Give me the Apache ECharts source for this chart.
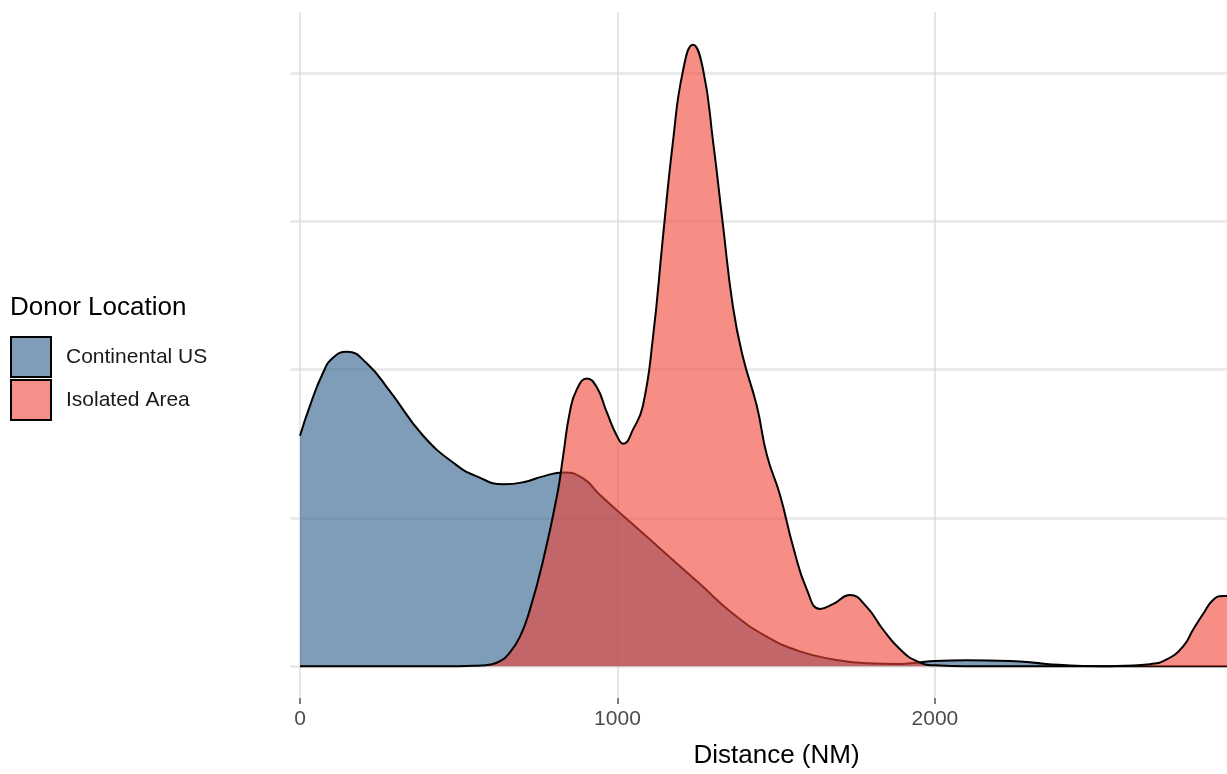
<!DOCTYPE html>
<html>
<head>
<meta charset="utf-8">
<script src="https://cdn.jsdelivr.net/npm/echarts@6/dist/echarts.min.js"></script>
<style>
html,body{margin:0;padding:0;background:#fff;overflow:hidden;}
#chart{position:absolute;left:0;top:0;width:1227px;height:774px;}
</style>
</head>
<body>
<div id="chart"></div>
<script>
// Density estimates (units of 1e-4 per NM)
const xTickValues = [0, 1000, 2000];
const seriesNames = ['Continental US', 'Isolated Area'];
const continentalX = [0, 31, 73, 104, 148, 211, 283, 388, 494, 557, 640, 703, 766, 829, 892, 945, 1050, 1155, 1260, 1364, 1470, 1575, 1680, 1785, 1890, 1943, 2000, 2100, 2236, 2350, 2466, 2600, 2800, 3000];
const continentalY = [7.77, 8.77, 9.9, 10.4, 10.6, 10.2, 9.27, 7.77, 6.77, 6.4, 6.13, 6.2, 6.4, 6.53, 6.33, 5.77, 4.77, 3.77, 2.77, 1.77, 1.0, 0.5, 0.23, 0.1, 0.08, 0.12, 0.18, 0.2, 0.18, 0.08, 0.01, 0, 0, 0];
const isolatedX = [0, 300, 500, 557, 600, 630, 660, 693, 724, 766, 810, 829, 850, 872, 904, 935, 966, 998, 1018, 1050, 1080, 1112, 1143, 1175, 1206, 1238, 1269, 1301, 1332, 1364, 1395, 1439, 1471, 1512, 1554, 1597, 1638, 1680, 1732, 1785, 1837, 1890, 1943, 2000, 2100, 2300, 2500, 2600, 2677, 2730, 2782, 2813, 2845, 2876, 2907, 2950, 3000];
const isolatedY = [0, 0, 0, 0.02, 0.06, 0.17, 0.45, 1.0, 1.9, 3.57, 5.77, 7.1, 8.57, 9.33, 9.7, 9.4, 8.57, 7.77, 7.5, 8.0, 8.77, 11.1, 14.43, 17.7, 20.05, 20.95, 20.15, 17.7, 14.9, 12.1, 10.43, 8.77, 7.1, 5.77, 4.0, 2.57, 1.93, 2.1, 2.4, 2.0, 1.23, 0.57, 0.17, 0.03, 0, 0, 0, 0.02, 0.07, 0.23, 0.67, 1.23, 1.77, 2.23, 2.37, 2.25, 1.9];

const pair = (xs, ys) => xs.map((x, i) => [x, ys[i]]);
const FONT = 'Liberation Sans, Arial, Helvetica, sans-serif';

const chart = echarts.init(document.getElementById('chart'), null, {renderer: 'canvas'});
chart.setOption({
  animation: false,
  backgroundColor: '#ffffff',
  title: {
    text: 'Donor Location',
    left: 10, top: 295,
    padding: 0,
    textStyle: {fontFamily: FONT, fontSize: 26, fontWeight: 'normal', color: '#000'}
  },
  legend: {
    orient: 'vertical',
    left: 10, top: 336,
    padding: 0,
    itemGap: 1,
    itemWidth: 40, itemHeight: 40,
    icon: 'rect',
    textStyle: {fontFamily: FONT, fontSize: 21, color: '#1a1a1a', padding: [0, 0, 0, 10]},
    data: [
      {name: seriesNames[0], itemStyle: {color: '#7f9cb8', borderColor: '#000', borderWidth: 2}},
      {name: seriesNames[1], itemStyle: {color: '#f58f89', borderColor: '#000', borderWidth: 2}}
    ]
  },
  grid: {left: 290, width: 937, top: 12, height: 689, containLabel: false},
  xAxis: {
    type: 'value',
    min: -31.5, max: 2920,
    splitNumber: 3,
    axisLine: {show: false, onZero: false},
    axisTick: {show: true, length: 6, customValues: xTickValues, lineStyle: {color: '#555', width: 1.5}},
    axisLabel: {fontFamily: FONT, fontSize: 21, color: '#4d4d4d', margin: 11,
      customValues: xTickValues, formatter: v => String(v)},
    splitLine: {show: true, lineStyle: {color: '#dedede', width: 1.5}},
    name: 'Distance (NM)',
    nameLocation: 'middle',
    nameGap: 45,
    nameTextStyle: {fontFamily: FONT, fontSize: 26, color: '#000', padding: [0, 0, 0, 36]}
  },
  yAxis: {
    type: 'value',
    min: -1.07, max: 22.05,
    splitNumber: 5,
    axisLine: {show: false},
    axisTick: {show: false},
    axisLabel: {show: false},
    splitLine: {show: true, showMinLine: false, showMaxLine: false, lineStyle: {color: '#ebebeb', width: 3}}
  },
  series: [
    {
      name: seriesNames[0], type: 'line', smooth: 0.5, symbol: 'none',
      data: pair(continentalX, continentalY),
      lineStyle: {color: '#000', width: 2},
      itemStyle: {color: '#7f9cb8'},
      areaStyle: {color: 'rgba(42,90,137,0.6)', opacity: 1, origin: 0},
      z: 2
    },
    {
      name: seriesNames[1], type: 'line', smooth: 0.5, symbol: 'none',
      data: pair(isolatedX, isolatedY),
      lineStyle: {color: '#000', width: 2},
      itemStyle: {color: '#f58f89'},
      areaStyle: {color: 'rgba(240,67,53,0.6)', opacity: 1, origin: 0},
      z: 3
    }
  ]
});
</script>
</body>
</html>
